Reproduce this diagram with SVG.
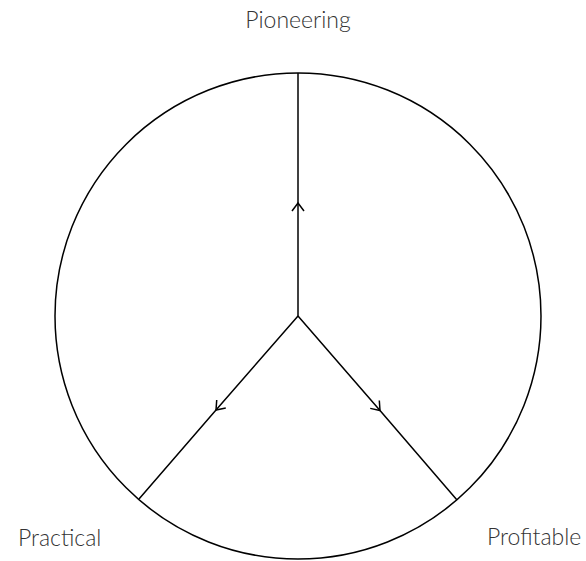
<svg xmlns="http://www.w3.org/2000/svg" width="586" height="561" viewBox="0 0 586 561">
<defs>
<style>
.lbl{font-family:Lato,"Open Sans","Liberation Sans",sans-serif;font-weight:300;font-size:23px;fill:#333}
.edge{fill:none;stroke:#000;stroke-width:1.5;marker-mid:url(#chev)}
</style>
<marker id="chev" markerUnits="userSpaceOnUse" markerWidth="20" markerHeight="20" refX="0" refY="0" viewBox="-10 -10 20 20" orient="auto" overflow="visible">
<path d="M-8,-6 L0,0 L-8,6" fill="none" stroke="#000" stroke-width="1.5"/>
</marker>
</defs>
<rect width="586" height="561" fill="#fff"/>
<g id="circle"><circle cx="298" cy="316" r="243" fill="none" stroke="#000" stroke-width="1.5"/></g>
<g id="connectors">
<path class="edge" d="M298,316 L298,203 L298,73"/>
<path class="edge" d="M298,316 L216,410 L139,499"/>
<path class="edge" d="M298,316 L380,410.5 L457,500"/>
</g>
<g id="pioneering"><text class="lbl" x="298" y="28" text-anchor="middle">Pioneering</text></g>
<g id="practical"><text class="lbl" x="18" y="546">Practical</text></g>
<g id="profitable"><text class="lbl" x="487" y="545">Profitable</text></g>
</svg>
